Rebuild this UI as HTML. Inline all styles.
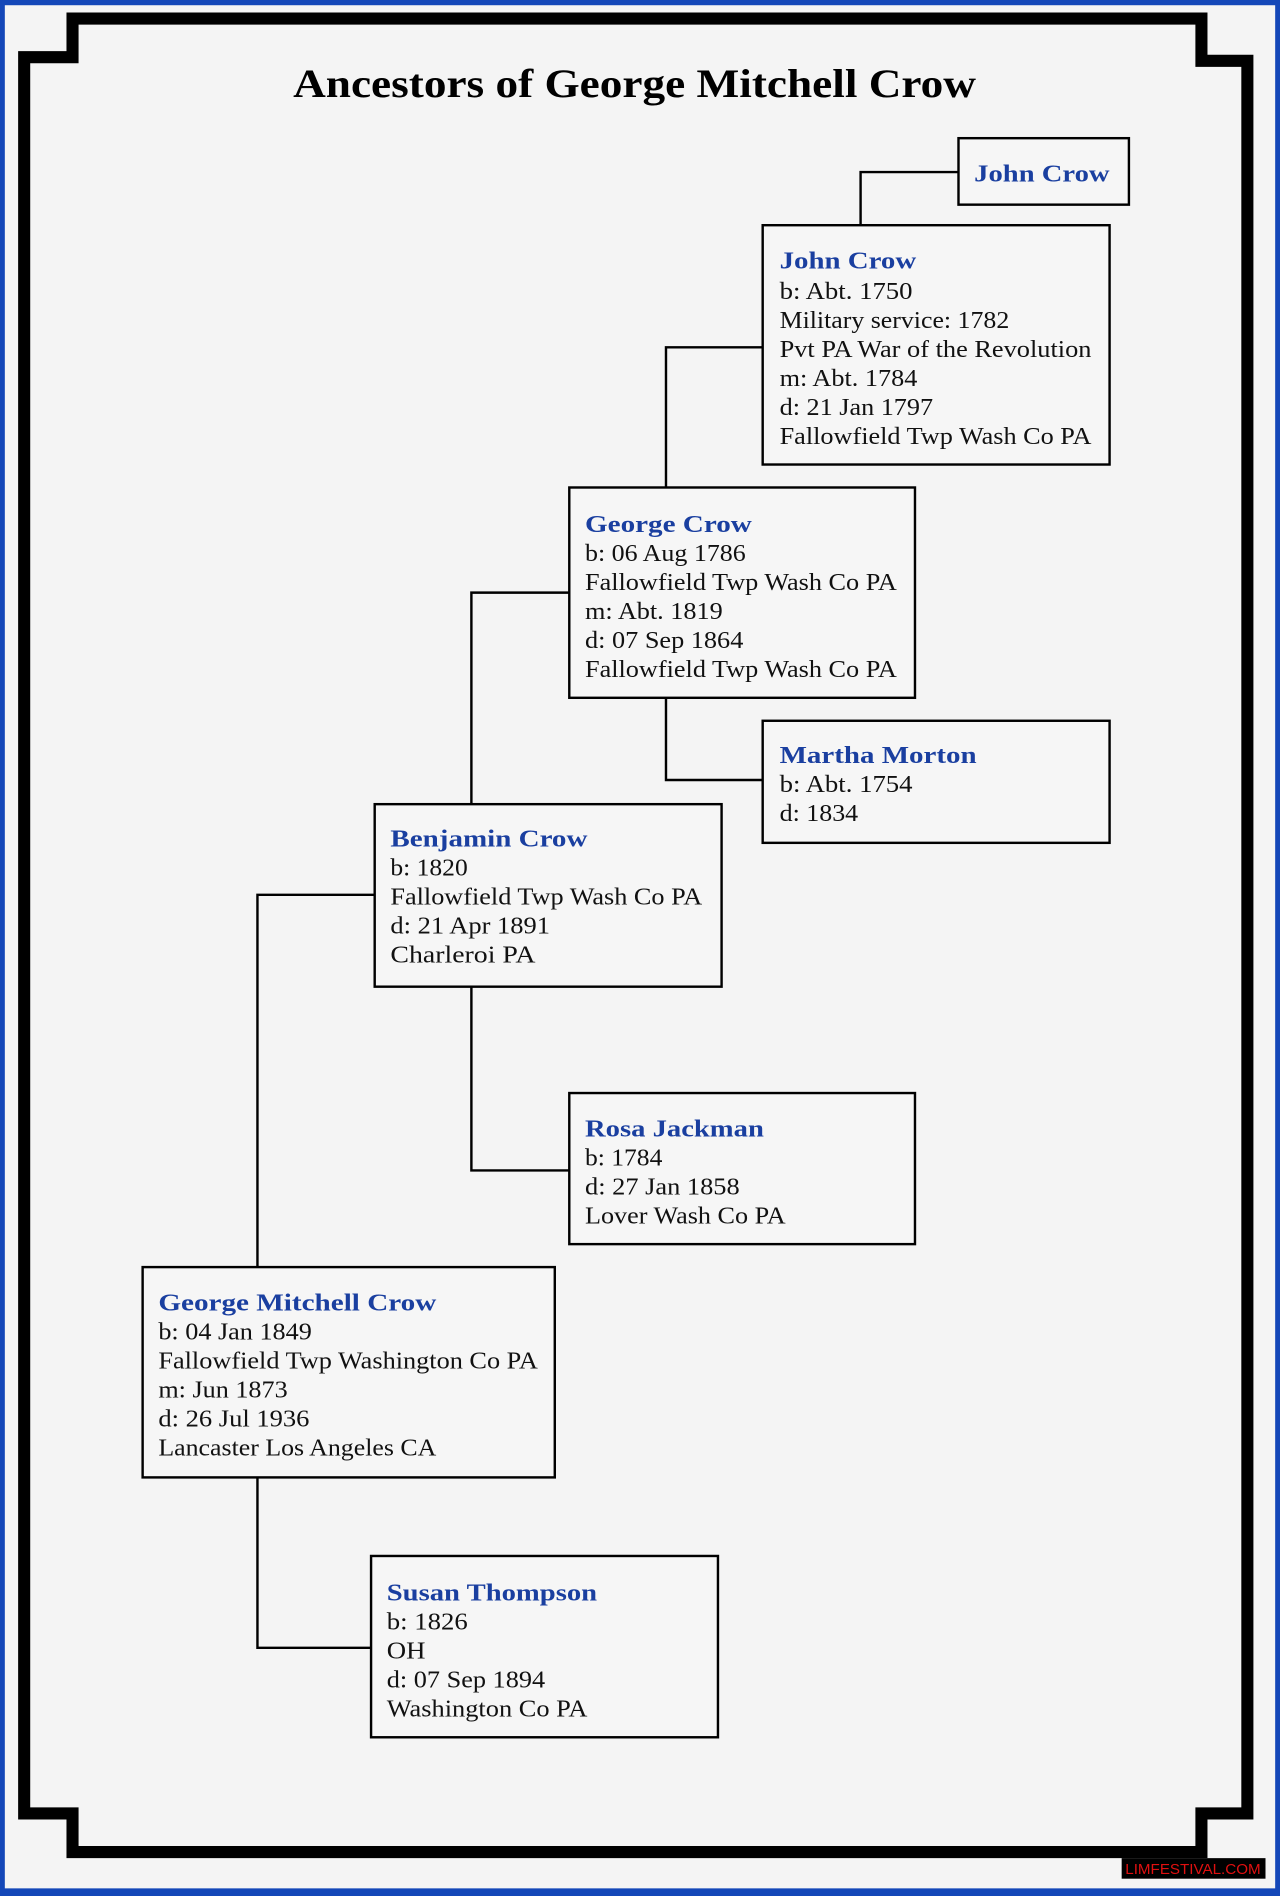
<!DOCTYPE html>
<html><head><meta charset="utf-8"><style>
html,body{margin:0;padding:0;background:#1447b8;}
svg{display:block;}
</style></head><body>
<svg width="1280" height="1896" viewBox="0 0 1059 1568" xmlns="http://www.w3.org/2000/svg">
<rect x="0" y="0" width="1059" height="1568" fill="#1447b8"/>
<rect x="4" y="4" width="1051" height="1558" fill="#f4f4f4"/>
<path d="M60,15 H994 V50 H1032 V1500 H994 V1532 H60 V1500 H20 V47 H60 Z" fill="none" stroke="#000" stroke-width="10" stroke-linejoin="miter"/>
<text x="525" y="80" text-anchor="middle" font-family="Liberation Serif, serif" font-weight="bold" font-size="33" textLength="565" lengthAdjust="spacingAndGlyphs" fill="#000">Ancestors of George Mitchell Crow</text>
<g stroke="#000" stroke-width="2" fill="none">
<path d="M793,142 H712 V186"/>
<path d="M631,287 H551 V403"/>
<path d="M551,577 V645 H631"/>
<path d="M471,490 H390 V665"/>
<path d="M390,816 V968 H471"/>
<path d="M310,740 H213 V1048"/>
<path d="M213,1222 V1363 H307"/>
</g>
<g stroke="#000" stroke-width="2" fill="#f6f6f6">
<rect x="793" y="114" width="141" height="55"/>
<rect x="631" y="186" width="287" height="198"/>
<rect x="471" y="403" width="286" height="174"/>
<rect x="631" y="596" width="287" height="101"/>
<rect x="310" y="665" width="287" height="151"/>
<rect x="471" y="904" width="286" height="125"/>
<rect x="118" y="1048" width="341" height="174"/>
<rect x="307" y="1287" width="287" height="150"/>
</g>
<g font-family="Liberation Serif, serif" font-size="20" fill="#111">
<g fill="#1a3fa0" font-weight="bold" font-size="20">
<text x="806" y="150" textLength="112" lengthAdjust="spacingAndGlyphs">John Crow</text>
<text x="645" y="222" textLength="113" lengthAdjust="spacingAndGlyphs">John Crow</text>
<text x="484" y="440" textLength="138" lengthAdjust="spacingAndGlyphs">George Crow</text>
<text x="645" y="631" textLength="163" lengthAdjust="spacingAndGlyphs">Martha Morton</text>
<text x="323" y="700" textLength="163" lengthAdjust="spacingAndGlyphs">Benjamin Crow</text>
<text x="484" y="940" textLength="148" lengthAdjust="spacingAndGlyphs">Rosa Jackman</text>
<text x="131" y="1084" textLength="230" lengthAdjust="spacingAndGlyphs">George Mitchell Crow</text>
<text x="320" y="1324" textLength="174" lengthAdjust="spacingAndGlyphs">Susan Thompson</text>
</g>
<text x="645" y="247" textLength="110" lengthAdjust="spacingAndGlyphs">b: Abt. 1750</text>
<text x="645" y="271" textLength="190" lengthAdjust="spacingAndGlyphs">Military service: 1782</text>
<text x="645" y="295" textLength="258" lengthAdjust="spacingAndGlyphs">Pvt PA War of the Revolution</text>
<text x="645" y="319" textLength="114" lengthAdjust="spacingAndGlyphs">m: Abt. 1784</text>
<text x="645" y="343" textLength="127" lengthAdjust="spacingAndGlyphs">d: 21 Jan 1797</text>
<text x="645" y="367" textLength="258" lengthAdjust="spacingAndGlyphs">Fallowfield Twp Wash Co PA</text>
<text x="484" y="464" textLength="133" lengthAdjust="spacingAndGlyphs">b: 06 Aug 1786</text>
<text x="484" y="488" textLength="258" lengthAdjust="spacingAndGlyphs">Fallowfield Twp Wash Co PA</text>
<text x="484" y="512" textLength="114" lengthAdjust="spacingAndGlyphs">m: Abt. 1819</text>
<text x="484" y="536" textLength="131" lengthAdjust="spacingAndGlyphs">d: 07 Sep 1864</text>
<text x="484" y="560" textLength="258" lengthAdjust="spacingAndGlyphs">Fallowfield Twp Wash Co PA</text>
<text x="645" y="655" textLength="110" lengthAdjust="spacingAndGlyphs">b: Abt. 1754</text>
<text x="645" y="679" textLength="65" lengthAdjust="spacingAndGlyphs">d: 1834</text>
<text x="323" y="724" textLength="64" lengthAdjust="spacingAndGlyphs">b: 1820</text>
<text x="323" y="748" textLength="258" lengthAdjust="spacingAndGlyphs">Fallowfield Twp Wash Co PA</text>
<text x="323" y="772" textLength="132" lengthAdjust="spacingAndGlyphs">d: 21 Apr 1891</text>
<text x="323" y="796" textLength="120" lengthAdjust="spacingAndGlyphs">Charleroi  PA</text>
<text x="484" y="964" textLength="64" lengthAdjust="spacingAndGlyphs">b: 1784</text>
<text x="484" y="988" textLength="128" lengthAdjust="spacingAndGlyphs">d: 27 Jan 1858</text>
<text x="484" y="1012" textLength="166" lengthAdjust="spacingAndGlyphs">Lover Wash Co PA</text>
<text x="131" y="1108" textLength="127" lengthAdjust="spacingAndGlyphs">b: 04 Jan 1849</text>
<text x="131" y="1132" textLength="314" lengthAdjust="spacingAndGlyphs">Fallowfield Twp Washington Co PA</text>
<text x="131" y="1156" textLength="107" lengthAdjust="spacingAndGlyphs">m: Jun 1873</text>
<text x="131" y="1180" textLength="125" lengthAdjust="spacingAndGlyphs">d: 26 Jul 1936</text>
<text x="131" y="1204" textLength="230" lengthAdjust="spacingAndGlyphs">Lancaster Los Angeles CA</text>
<text x="320" y="1348" textLength="67" lengthAdjust="spacingAndGlyphs">b: 1826</text>
<text x="320" y="1372" textLength="32" lengthAdjust="spacingAndGlyphs">OH</text>
<text x="320" y="1396" textLength="131" lengthAdjust="spacingAndGlyphs">d: 07 Sep 1894</text>
<text x="320" y="1420" textLength="166" lengthAdjust="spacingAndGlyphs">Washington Co PA</text>
</g>
<rect x="928" y="1537" width="119" height="17" fill="#000"/>
<text x="987" y="1550" text-anchor="middle" font-family="Liberation Sans, sans-serif" font-size="12" textLength="112" lengthAdjust="spacingAndGlyphs" fill="#e01010">LIMFESTIVAL.COM</text>
</svg>
</body></html>
